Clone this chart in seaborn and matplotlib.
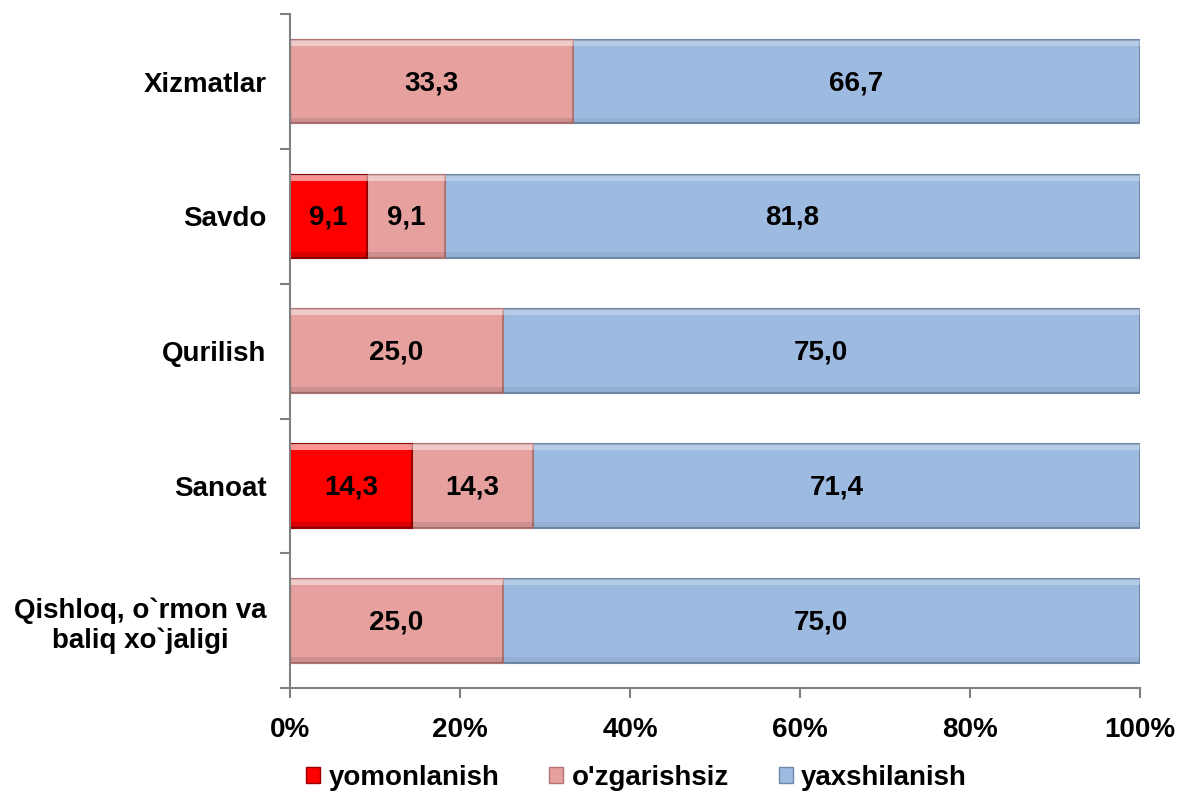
import numpy as np
import pandas as pd
import seaborn as sns
import matplotlib.pyplot as plt
from matplotlib.patches import Patch, Rectangle

# data, top to bottom
sectors = ["Xizmatlar", "Savdo", "Qurilish", "Sanoat", "Qishloq, o`rmon va\nbaliq xo`jaligi"]
yomonlanish = [0.0, 9.1, 0.0, 14.3, 0.0]
ozgarishsiz = [33.3, 9.1, 25.0, 14.3, 25.0]
yaxshilanish = [66.7, 81.8, 75.0, 71.4, 75.0]

series_names = ["yomonlanish", "o'zgarishsiz", "yaxshilanish"]
colors = ["#FF0000", "#E6A19F", "#9DBBE0"]
edges = ["#9A0000", "#B07472", "#7189A8"]

df = pd.DataFrame({
    "sector": sectors,
    "yomonlanish": yomonlanish,
    "ozgarishsiz": ozgarishsiz,
    "yaxshilanish": yaxshilanish,
})
df["c1"] = df["yomonlanish"]
df["c2"] = df["c1"] + df["ozgarishsiz"]
df["c3"] = df["c2"] + df["yaxshilanish"]

sns.set_style("white")
plt.rcParams["font.family"] = ["Liberation Sans", "DejaVu Sans"]
plt.rcParams["font.weight"] = "bold"
plt.rcParams["text.color"] = "black"

fig = plt.figure(figsize=(11.79, 7.92), dpi=100)
ax = fig.add_axes([0.246, 0.131, 0.721, 0.851])

# stacked: draw the cumulative totals from the widest down
for col, c, e in zip(["c3", "c2", "c1"], colors[::-1], edges[::-1]):
    sns.barplot(data=df, y="sector", x=col, orient="h", color=c, width=0.62,
                edgecolor=e, linewidth=1.5, saturation=1, ax=ax)

# soft bevel look: light strip on top, darker strip at the bottom of each segment
for p in list(ax.patches):
    x0, y0, w, h = p.get_x(), p.get_y(), p.get_width(), p.get_height()
    if w <= 0:
        continue
    ax.add_patch(Rectangle((x0, y0), w, h * 0.07, facecolor="white", alpha=0.25,
                           linewidth=0, zorder=p.get_zorder() + 0.1))
    ax.add_patch(Rectangle((x0, y0 + h * 0.93), w, h * 0.07, facecolor="black", alpha=0.05,
                           linewidth=0, zorder=p.get_zorder() + 0.1))

# labels in the middle of each segment
segs = [("yomonlanish", "c1"), ("ozgarishsiz", "c2"), ("yaxshilanish", "c3")]
for i, row in df.iterrows():
    for val_col, cum_col in segs:
        v = row[val_col]
        if v > 0:
            ax.text(row[cum_col] - v / 2, i + 0.01, f"{v:.1f}".replace(".", ","),
                    ha="center", va="center", fontsize=20, fontweight="bold",
                    color="black", zorder=10)

ax.set_xlim(0, 100)
ax.set_ylim(len(sectors) - 0.5, -0.5)
ax.set_xticks(np.arange(0, 101, 20))
ax.set_xticklabels([f"{t}%" for t in range(0, 101, 20)], fontsize=20, fontweight="bold", color="black")
ax.set_yticks(np.arange(len(sectors)))
ax.set_yticklabels(sectors, fontsize=20, fontweight="bold", color="black", multialignment="center")
ax.set_xlabel("")
ax.set_ylabel("")

# category boundary ticks on the y axis
ax.set_yticks(np.arange(-0.5, len(sectors), 1), minor=True)
ax.tick_params(axis="y", which="major", left=False, length=0, pad=17)
ax.tick_params(axis="y", which="minor", left=True, length=7, color="#808080", width=1.5, direction="out")
ax.tick_params(axis="x", bottom=True, length=7, color="#808080", width=1.5, direction="out", pad=14)

for s in ["top", "right"]:
    ax.spines[s].set_visible(False)
for s in ["left", "bottom"]:
    ax.spines[s].set_color("#808080")
    ax.spines[s].set_linewidth(1.5)

handles = [Patch(facecolor=c, edgecolor=e, label=n) for c, e, n in zip(colors, edges, series_names)]
fig.legend(handles=handles, loc="center", bbox_to_anchor=(0.54, 14 / 792), ncol=3,
           frameon=False, handlelength=0.5, handleheight=0.5,
           handletextpad=0.3, columnspacing=1.8, prop={"weight": "bold", "size": 20})

fig.savefig("out.png", dpi=100)
